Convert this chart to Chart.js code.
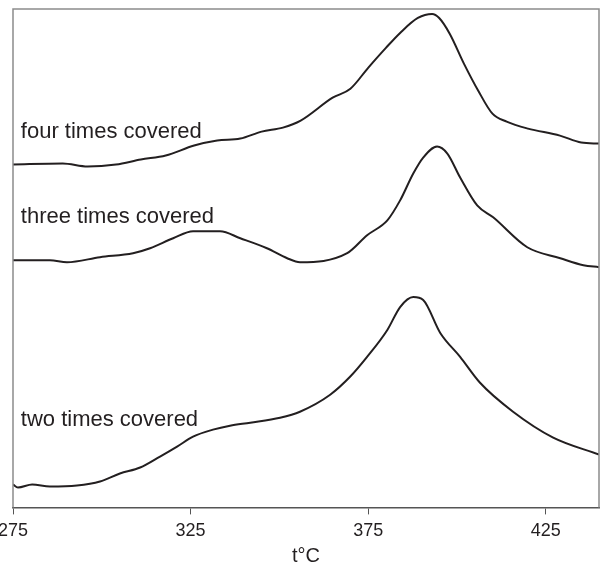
<!DOCTYPE html>
<html>
<head>
<meta charset="utf-8">
<script src="https://cdn.jsdelivr.net/npm/chart.js@4"></script>
<style>
  body { margin: 0; background: #fff; }
</style>
</head>
<body>
<canvas id="tgChart" width="605" height="565"></canvas>
<script>
// temperature, °C
var xTicks = [275, 325, 375, 425];

var fourT = [275, 289, 296, 304, 311, 318, 326, 332.5, 339, 345, 351, 356, 365, 370, 375, 380, 384, 389, 393, 395, 398, 402, 406, 410, 414, 420, 429, 435, 440];
var fourY = [344, 345, 342, 344, 349, 353, 363, 368, 370, 377, 381, 388, 411, 420, 441, 461, 476, 491, 495, 491, 475, 445, 418, 395, 387, 380, 373, 366, 365];

var threeT = [275, 285.4, 290.2, 299.5, 308.8, 313.6, 320.1, 325.7, 333.3, 339, 346.5, 352.2, 355.8, 369.1, 374.7, 380.4, 384, 387.7, 390.5, 394.4, 397.3, 400.9, 405.7, 410.2, 419.8, 429.1, 435.6, 440];
var threeY = [248, 248, 246, 251, 255, 260, 270, 277, 277, 270, 260, 250, 246, 255, 273, 288, 308, 335, 351, 362, 355, 331, 303, 291, 261, 250, 243, 241];

var twoT = [275, 276.4, 280.4, 285.4, 293, 299.5, 305.1, 310.8, 316.4, 321.2, 325.7, 331.3, 336.1, 341.8, 350.2, 355.8, 364.3, 369.9, 374.7, 380.4, 384, 387.7, 390.5, 395.3, 400.9, 406.5, 415.8, 427.1, 440];
var twoY = [23, 20, 23, 21, 22, 26, 34, 40, 51, 61, 71, 78, 82, 85, 90, 96, 113, 131, 151, 178, 201, 211, 208, 175, 151, 125, 96, 70, 53];

var curveNames = ['four times covered', 'three times covered', 'two times covered'];

function toPoints(xs, ys) {
  return xs.map(function(x, i) { return { x: x, y: ys[i] }; });
}

var lineColor = '#231f20';
var fontFamily = '"Liberation Sans", Arial, sans-serif';

// frame around the plot area + curve captions
var framePlugin = {
  id: 'frame',
  afterDraw: function(chart) {
    var ctx = chart.ctx;
    var a = chart.chartArea;
    ctx.save();
    ctx.strokeStyle = '#8c8c8c';
    ctx.lineWidth = 1.5;
    ctx.beginPath();
    ctx.moveTo(a.left, a.bottom);
    ctx.lineTo(a.left, a.top);
    ctx.lineTo(a.right, a.top);
    ctx.lineTo(a.right, a.bottom);
    ctx.stroke();

    var xs = chart.scales.x, ys = chart.scales.y;
    var captionY = [377, 291, 88];
    ctx.fillStyle = lineColor;
    ctx.font = '22px ' + fontFamily;
    ctx.textBaseline = 'middle';
    curveNames.forEach(function(name, i) {
      ctx.fillText(name, xs.getPixelForValue(277.2), ys.getPixelForValue(captionY[i]));
    });
    ctx.restore();
  }
};

function makeSet(label, pts) {
  return {
    label: label,
    data: pts,
    borderColor: lineColor,
    borderWidth: 2,
    pointRadius: 0,
    fill: false,
    cubicInterpolationMode: 'monotone'
  };
}

var ctx = document.getElementById('tgChart').getContext('2d');
var tgChart = new Chart(ctx, {
  type: 'line',
  data: {
    datasets: [
      makeSet(curveNames[0], toPoints(fourT, fourY)),
      makeSet(curveNames[1], toPoints(threeT, threeY)),
      makeSet(curveNames[2], toPoints(twoT, twoY))
    ]
  },
  options: {
    responsive: false,
    animation: false,
    layout: { padding: { top: 9, right: 6, left: 0, bottom: -3 } },
    plugins: {
      legend: { display: false },
      tooltip: { enabled: false }
    },
    scales: {
      x: {
        type: 'linear',
        min: 275,
        max: 440,
        afterBuildTicks: function(axis) {
          axis.ticks = xTicks.map(function(v) { return { value: v }; });
        },
        afterFit: function(axis) {
          // first label is allowed to run off the left edge, as in the original
          axis.paddingLeft = 13;
          axis.paddingRight = 0;
        },
        border: { display: true, color: '#555', width: 1.5 },
        grid: { display: true, drawOnChartArea: false, drawTicks: true, tickLength: 7, color: '#555' },
        ticks: {
          color: lineColor,
          padding: 6,
          maxRotation: 0,
          font: { family: fontFamily, size: 18 }
        },
        title: {
          display: true,
          text: 't°C',
          color: lineColor,
          padding: { top: -4, bottom: 0 },
          font: { family: fontFamily, size: 20 }
        }
      },
      y: {
        display: false,
        min: 0,
        max: 500
      }
    }
  },
  plugins: [framePlugin]
});
</script>
</body>
</html>
